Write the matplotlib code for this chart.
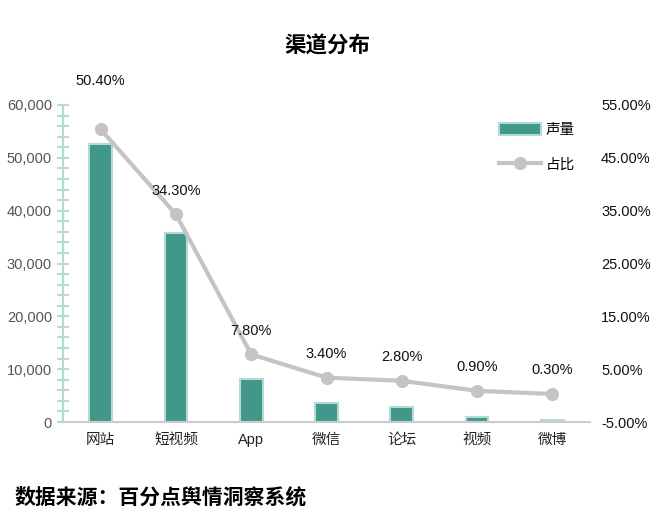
import matplotlib
matplotlib.use("Agg")
import matplotlib.pyplot as plt
from matplotlib.ticker import MultipleLocator, FuncFormatter
from matplotlib.lines import Line2D
from matplotlib.patches import Patch

plt.rcParams['font.family'] = ['Liberation Sans', 'Noto Sans CJK SC']

# data
channels = ['网站', '短视频', 'App', '微信', '论坛', '视频', '微博']
volume = [52600, 35800, 8150, 3550, 2920, 940, 450]
share = [50.4, 34.3, 7.8, 3.4, 2.8, 0.9, 0.3]

bar_color = '#40978a'
bar_edge = '#b3dad6'
line_color = '#c4c4c4'

fig = plt.figure(figsize=(6.58, 5.2), dpi=100)
ax = fig.add_axes([63 / 658, 98 / 520, 527 / 658, 317 / 520])
ax2 = ax.twinx()

x = list(range(len(channels)))
ax.bar(x, volume, width=0.3, color=bar_color, edgecolor=bar_edge, linewidth=1.5, zorder=2)
ax.set_xlim(-0.5, len(channels) - 0.5)
ax.set_ylim(0, 60000)
ax.yaxis.set_major_locator(MultipleLocator(10000))
ax.yaxis.set_minor_locator(MultipleLocator(2000))
ax.yaxis.set_major_formatter(FuncFormatter(lambda v, p: f'{int(v):,}'))
ax.tick_params(axis='y', which='both', direction='inout', length=8, width=1.5,
               color=bar_edge, labelsize=10.5, labelcolor='#555555', pad=4)
ax.tick_params(axis='x', length=0, labelsize=10.5, labelcolor='#222222', pad=8)
ax.set_xticks(x)
ax.set_xticklabels(channels)
for s in ['top', 'right']:
    ax.spines[s].set_visible(False)
ax.spines['left'].set_color(bar_edge)
ax.spines['left'].set_linewidth(1.5)
ax.spines['bottom'].set_color('#cccccc')
ax.spines['bottom'].set_linewidth(1.5)

ax2.plot(x, share, color=line_color, linewidth=3, marker='o', markersize=8.5, zorder=3)
ax2.set_ylim(-5, 55)
ax2.set_yticks([-5, 5, 15, 25, 35, 45, 55])
ax2.yaxis.set_major_formatter(FuncFormatter(lambda v, p: f'{v:.2f}%'))
ax2.tick_params(axis='y', length=0, labelsize=10.5, labelcolor='#111111', pad=8)
for s in ['top', 'right', 'left', 'bottom']:
    ax2.spines[s].set_visible(False)

for i, v in enumerate(share):
    off = 30 if i == 0 else 12
    ax2.annotate(f'{v:.2f}%', (x[i], v), xytext=(0, off), textcoords='offset points',
                 ha='center', va='bottom', fontsize=10.5, color='#111111')

handles = [Patch(facecolor=bar_color, edgecolor=bar_edge, linewidth=1.5),
           Line2D([0], [0], color=line_color, linewidth=3, marker='o', markersize=8.5)]
fig.legend(handles, ['声量', '占比'], loc='upper left', bbox_to_anchor=(486 / 658, 1 - 110 / 520),
           frameon=False, fontsize=10.5, handlelength=2.9, handleheight=0.8,
           labelspacing=1.4, handletextpad=0.3)

fig.text(327 / 658, 1 - 47 / 520, '渠道分布', ha='center', va='center', fontsize=15.5,
         fontweight='bold', color='#000000')
fig.text(15 / 658, 1 - 497 / 520, '数据来源：百分点舆情洞察系统', ha='left', va='center',
         fontsize=15, fontweight='bold', color='#000000')

fig.savefig('out.png', dpi=100)
